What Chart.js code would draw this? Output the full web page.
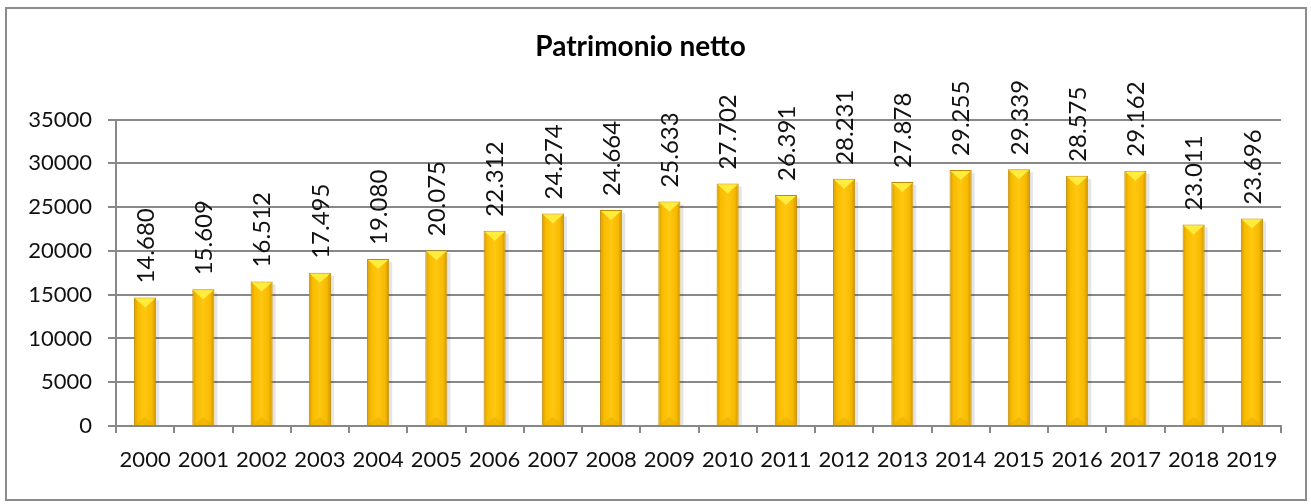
<!DOCTYPE html>
<html>
<head>
<meta charset="utf-8">
<script src="https://cdn.jsdelivr.net/npm/chart.js@4"></script>
<style>
  html, body { margin: 0; padding: 0; background: #fff; }
  #wrap { width: 1311px; height: 504px; }
</style>
</head>
<body>
<div id="wrap"><canvas id="chart" width="1311" height="504"></canvas></div>
<script>
const years = ["2000", "2001", "2002", "2003", "2004", "2005", "2006", "2007", "2008", "2009",
               "2010", "2011", "2012", "2013", "2014", "2015", "2016", "2017", "2018", "2019"];
const patrimonio = [14680, 15609, 16512, 17495, 19080, 20075, 22312, 24274, 24664, 25633,
                    27702, 26391, 28231, 27878, 29255, 29339, 28575, 29162, 23011, 23696];
const yTicks = [0, 5000, 10000, 15000, 20000, 25000, 30000, 35000];

const FONT = "Lato, 'Open Sans', sans-serif";
const BAR_PCT = 0.76, CAT_PCT = 0.5;

// format like 14.680
function fmt(v) {
    return String(v).replace(/\B(?=(\d{3})+(?!\d))/g, ".");
}

// golden horizontal gradient for each bar
function goldFill(context) {
    const chart = context.chart;
    const xs = chart.scales.x;
    if (!xs || !chart.chartArea || context.dataIndex === undefined) return '#ffc000';
    const cx = xs.getPixelForValue(context.dataIndex);
    const w = (chart.chartArea.width / years.length) * BAR_PCT * CAT_PCT;
    const g = chart.ctx.createLinearGradient(cx - w / 2, 0, cx + w / 2, 0);
    g.addColorStop(0, '#d49a00');
    g.addColorStop(0.18, '#f8bc00');
    g.addColorStop(0.5, '#ffc711');
    g.addColorStop(0.82, '#f6b900');
    g.addColorStop(1, '#c98f00');
    return g;
}

// frame around the whole picture
const framePlugin = {
    id: 'frame',
    beforeDraw(chart) {
        const ctx = chart.ctx;
        ctx.save();
        ctx.fillStyle = '#fff';
        ctx.fillRect(0, 0, chart.width, chart.height);
        ctx.strokeStyle = '#8c8c8c';
        ctx.lineWidth = 2;
        ctx.strokeRect(6, 8, 1300, 492);
        ctx.restore();
    }
};

// shadow, bevels and value labels
const barStyle = {
    id: 'barStyle',
    beforeDatasetsDraw(chart) {
        const ctx = chart.ctx;
        ctx.save();
        chart.getDatasetMeta(0).data.forEach(bar => {
            const x1 = bar.x + bar.width / 2;
            ctx.fillStyle = 'rgba(0,0,0,0.10)';
            ctx.fillRect(x1, bar.y + 3, 3, bar.base - bar.y - 3);
        });
        ctx.restore();
    },
    afterDatasetsDraw(chart) {
        const ctx = chart.ctx;
        ctx.save();
        chart.getDatasetMeta(0).data.forEach((bar, i) => {
            const x0 = bar.x - bar.width / 2, x1 = bar.x + bar.width / 2;
            // top bevel
            ctx.fillStyle = '#ffec3c';
            ctx.beginPath();
            ctx.moveTo(x0 + 1, bar.y + 1);
            ctx.lineTo(x1 - 1, bar.y + 1);
            ctx.lineTo(bar.x, bar.y + 10);
            ctx.closePath();
            ctx.fill();
            // bottom bevel
            ctx.fillStyle = 'rgba(230,170,0,0.5)';
            ctx.beginPath();
            ctx.moveTo(x0 + 1, bar.base);
            ctx.lineTo(x1 - 1, bar.base);
            ctx.lineTo(bar.x, bar.base - 8);
            ctx.closePath();
            ctx.fill();
            // value label, rotated
            ctx.save();
            ctx.translate(bar.x + 1, bar.y - 14);
            ctx.rotate(-Math.PI / 2);
            ctx.fillStyle = '#111';
            ctx.font = '24px ' + FONT;
            ctx.textAlign = 'left';
            ctx.textBaseline = 'middle';
            ctx.fillText(fmt(patrimonio[i]), 0, 0);
            ctx.restore();
        });
        ctx.restore();
    }
};

new Chart(document.getElementById('chart'), {
    type: 'bar',
    data: {
        labels: years,
        datasets: [{
            label: 'Patrimonio netto',
            data: patrimonio,
            backgroundColor: goldFill,
            borderColor: '#c08a00',
            borderWidth: 1,
            barPercentage: BAR_PCT,
            categoryPercentage: CAT_PCT
        }]
    },
    options: {
        responsive: false,
        animation: false,
        layout: { padding: { left: 0, right: 30, top: 0, bottom: 0 } },
        plugins: {
            legend: { display: false },
            tooltip: { enabled: false },
            title: {
                display: true,
                text: 'Patrimonio netto',
                color: '#000',
                font: { family: FONT, size: 28, weight: 'bold' },
                padding: { top: 30, bottom: 56 }
            }
        },
        scales: {
            x: {
                grid: {
                    display: true,
                    drawOnChartArea: false,
                    drawTicks: true,
                    tickLength: 7,
                    color: '#888',
                    lineWidth: 2
                },
                border: { color: '#888', width: 2 },
                ticks: {
                    color: '#111',
                    font: { family: FONT, size: 22 },
                    padding: 14,
                    maxRotation: 0,
                    autoSkip: false
                },
                afterFit(scale) { scale.height = 78; }
            },
            y: {
                min: 0,
                max: 35000,
                afterBuildTicks(scale) { scale.ticks = yTicks.map(v => ({ value: v })); },
                grid: {
                    color: '#888',
                    lineWidth: 2,
                    drawTicks: true,
                    tickLength: 8
                },
                border: { color: '#888', width: 2 },
                ticks: {
                    color: '#111',
                    font: { family: FONT, size: 22 },
                    padding: 16,
                    callback: v => String(v)
                },
                afterFit(scale) { scale.width = 116; }
            }
        }
    },
    plugins: [framePlugin, barStyle]
});
</script>
</body>
</html>
